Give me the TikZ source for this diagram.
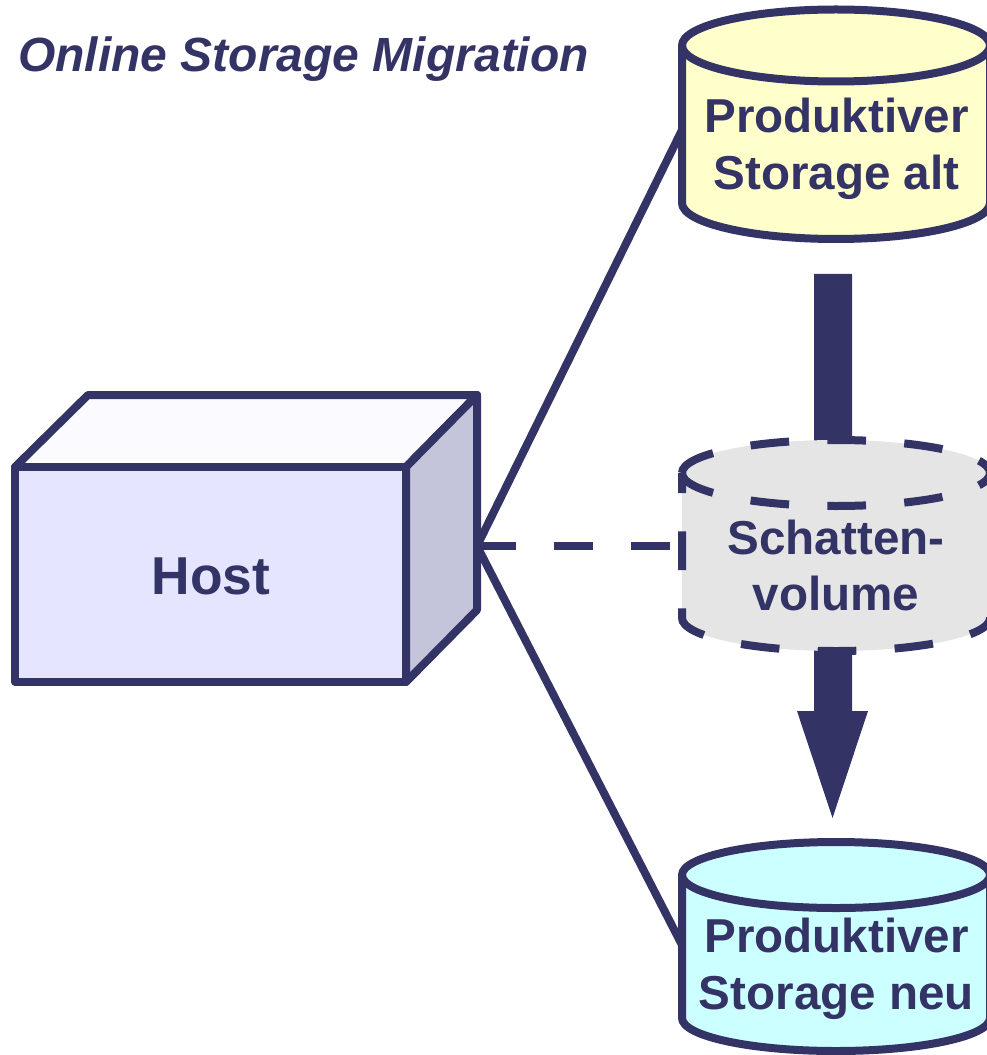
\documentclass[tikz,border=0pt]{standalone}
\usepackage{fontspec}
\setmainfont{Liberation Sans}
\usetikzlibrary{calc}
\definecolor{navy}{HTML}{333366}
\definecolor{oldfill}{HTML}{FFFFCC}
\definecolor{newfill}{HTML}{CCFFFF}
\definecolor{shadowfill}{HTML}{E5E5E5}
\definecolor{frontfill}{HTML}{E5E5FF}
\definecolor{topfill}{HTML}{FBFBFF}
\definecolor{sidefill}{HTML}{C4C4DB}
\tikzset{
  outline/.style={draw=navy,line width=6pt,line join=round},
  link/.style={draw=navy,line width=6pt},
  dashlink/.style={link,dash pattern=on 29pt off 28.75pt},
  label/.style={text=navy,font=\fontsize{35.7}{42.4}\selectfont\bfseries,align=center,inner sep=0pt},
}
\newcommand{\cylbody}[5]{% x-left, top y, bottom y, ry, fill
  \path[outline,fill=#5] (#1,#2) arc[start angle=180,end angle=360,x radius=154,y radius=#4]
     -- (#1+308,#3) arc[start angle=0,end angle=180,x radius=154,y radius=#4]  -- cycle;
  \path[outline] (#1,#2) arc[start angle=180,end angle=0,x radius=154,y radius=#4];
}
\begin{document}
\begin{tikzpicture}[x=0.75pt,y=-0.75pt]
\useasboundingbox (0,0) rectangle (986,1055);
\coordinate (hostport) at (477,546);
\coordinate (altport) at (682,130);
\coordinate (neuport) at (682,945);
\coordinate (schattenport) at (682,546);
\coordinate (flowstart) at (833,274);
\coordinate (flowneck) at (833,711);
\coordinate (flowend) at (832.5,818);
% connectors
\draw[link] (hostport) -- (altport);
\draw[link] (hostport) -- (neuport);
\draw[dashlink] (hostport) -- (schattenport);
\fill[navy] ($(flowstart)+(-19,0)$) -- ($(flowstart)+(19,0)$) -- ($(flowneck)+(19,0)$) -- ($(flowneck)+(35,0)$)
   -- (flowend) -- ($(flowneck)+(-36,0)$) -- ($(flowneck)+(-19,0)$) -- cycle;
% host box
\path[outline,fill=topfill] (15,467) -- (88,395) -- (477,395) -- (406,467) -- cycle;
\path[outline,fill=sidefill] (406,467) -- (477,395) -- (477,610) -- (406,682) -- cycle;
\path[outline,fill=frontfill] (15,467) rectangle (406,682);
\node[label,font=\fontsize{40}{48}\selectfont\bfseries] (host) at (211,576) {Host};
% cylinders
\cylbody{682}{45.5}{203}{36}{oldfill}
\cylbody{682}{875}{1018}{33}{newfill}
% shadow volume
\fill[shadowfill] (682,473) arc[start angle=180,end angle=360,x radius=154,y radius=33]
   -- (990,618) arc[start angle=0,end angle=180,x radius=154,y radius=33] -- cycle;
\draw[dashlink] (682,473) arc[start angle=180,end angle=360,x radius=154,y radius=33];
\draw[dashlink] (682,473) arc[start angle=180,end angle=0,x radius=154,y radius=33];
\draw[navy,line width=6pt,dash pattern=on 29pt off 28.75pt,dash phase=14pt] (682,473) -- (682,618) arc[start angle=180,end angle=0,x radius=154,y radius=33];
% labels
\node[label] (alt) at (836.5,149) {Produktiver\\Storage alt};
\node[label,font=\fontsize{35.7}{42}\selectfont\bfseries] (schatten) at (836,565.5) {Schatten-\\volume};
\node[label] (neu) at (836.5,969) {Produktiver\\Storage neu};
\node[text=navy,font=\fontsize{36}{42}\selectfont\bfseries\itshape,inner sep=0pt,anchor=base west] (title) at (18,72) {Online Storage Migration};
\end{tikzpicture}
\end{document}
